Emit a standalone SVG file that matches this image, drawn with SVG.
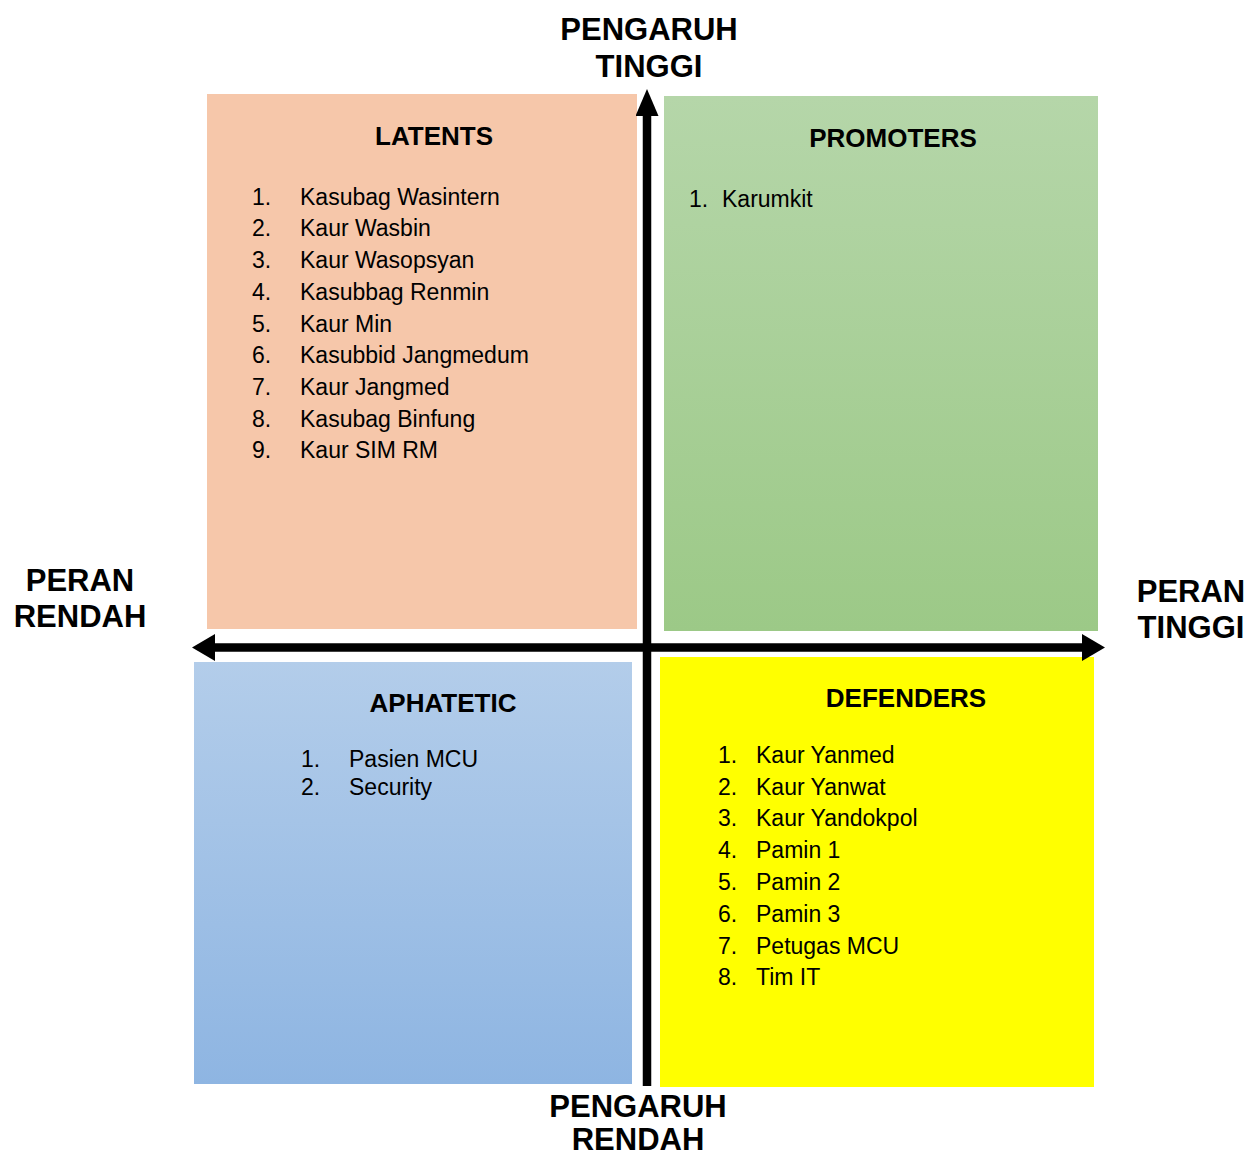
<svg xmlns="http://www.w3.org/2000/svg" width="1250" height="1156" viewBox="0 0 1250 1156">
<style>
  text { font-family: "Liberation Sans", Arial, sans-serif; fill: #000; }
  .axis { font-size: 31px; font-weight: bold; text-anchor: middle; }
  .title { font-size: 26px; font-weight: bold; text-anchor: middle; }
  .item { font-size: 23px; }
  .conn { stroke: #000; stroke-width: 8.5; fill: none; }
</style>
<defs>
  <linearGradient id="gGreen" x1="0" y1="0" x2="0" y2="1">
    <stop offset="0" stop-color="#B5D6A9"/>
    <stop offset="1" stop-color="#9CC987"/>
  </linearGradient>
  <linearGradient id="gBlue" x1="0" y1="0" x2="0" y2="1">
    <stop offset="0" stop-color="#B3CDEA"/>
    <stop offset="1" stop-color="#8EB5E2"/>
  </linearGradient>
  <marker id="headV" markerUnits="userSpaceOnUse" markerWidth="27" markerHeight="23" refX="0" refY="11.5" orient="auto-start-reverse" viewBox="0 0 27 23">
    <path d="M0,0 L27,11.5 L0,23 Z" fill="#000"/>
  </marker>
  <marker id="headH" markerUnits="userSpaceOnUse" markerWidth="23" markerHeight="27" refX="0" refY="13.5" orient="auto-start-reverse" viewBox="0 0 23 27">
    <path d="M0,0 L23,13.5 L0,27 Z" fill="#000"/>
  </marker>
</defs>
<rect width="1250" height="1156" fill="#fff"/>

<g id="latents">
  <rect x="207" y="94" width="430" height="535" fill="#F6C7AA"/>
  <text class="title" x="434" y="145">LATENTS</text>
  <g class="item">
    <text x="252" y="205">1.</text><text x="300" y="205">Kasubag Wasintern</text>
    <text x="252" y="236">2.</text><text x="300" y="236">Kaur Wasbin</text>
    <text x="252" y="268">3.</text><text x="300" y="268">Kaur Wasopsyan</text>
    <text x="252" y="300">4.</text><text x="300" y="300">Kasubbag Renmin</text>
    <text x="252" y="332">5.</text><text x="300" y="332">Kaur Min</text>
    <text x="252" y="363">6.</text><text x="300" y="363">Kasubbid Jangmedum</text>
    <text x="252" y="395">7.</text><text x="300" y="395">Kaur Jangmed</text>
    <text x="252" y="427">8.</text><text x="300" y="427">Kasubag Binfung</text>
    <text x="252" y="458">9.</text><text x="300" y="458">Kaur SIM RM</text>
  </g>
</g>

<g id="promoters">
  <rect x="664" y="96" width="434" height="535" fill="url(#gGreen)"/>
  <text class="title" x="893" y="147">PROMOTERS</text>
  <g class="item">
    <text x="689" y="207">1.</text><text x="722" y="207">Karumkit</text>
  </g>
</g>

<g id="apathetic">
  <rect x="194" y="662" width="438" height="422" fill="url(#gBlue)"/>
  <text class="title" x="443" y="712">APHATETIC</text>
  <g class="item">
    <text x="301" y="767">1.</text><text x="349" y="767">Pasien MCU</text>
    <text x="301" y="795">2.</text><text x="349" y="795">Security</text>
  </g>
</g>

<g id="defenders">
  <rect x="660" y="657" width="434" height="430" fill="#FFFF00"/>
  <text class="title" x="906" y="707">DEFENDERS</text>
  <g class="item">
    <text x="718" y="763">1.</text><text x="756" y="763">Kaur Yanmed</text>
    <text x="718" y="795">2.</text><text x="756" y="795">Kaur Yanwat</text>
    <text x="718" y="826">3.</text><text x="756" y="826">Kaur Yandokpol</text>
    <text x="718" y="858">4.</text><text x="756" y="858">Pamin 1</text>
    <text x="718" y="890">5.</text><text x="756" y="890">Pamin 2</text>
    <text x="718" y="922">6.</text><text x="756" y="922">Pamin 3</text>
    <text x="718" y="954">7.</text><text x="756" y="954">Petugas MCU</text>
    <text x="718" y="985">8.</text><text x="756" y="985">Tim IT</text>
  </g>
</g>

<g id="connectors">
  <line class="conn" x1="647" y1="1086" x2="647" y2="116" marker-end="url(#headV)"/>
  <line class="conn" x1="215" y1="647.5" x2="1082" y2="647.5" marker-start="url(#headH)" marker-end="url(#headH)"/>
</g>

<g id="axis-labels">
  <text class="axis" x="649" y="40">PENGARUH</text>
  <text class="axis" x="649" y="77">TINGGI</text>
  <text class="axis" x="80" y="591">PERAN</text>
  <text class="axis" x="80" y="627">RENDAH</text>
  <text class="axis" x="1191" y="602">PERAN</text>
  <text class="axis" x="1191" y="638">TINGGI</text>
  <text class="axis" x="638" y="1117">PENGARUH</text>
  <text class="axis" x="638" y="1150">RENDAH</text>
</g>
</svg>
